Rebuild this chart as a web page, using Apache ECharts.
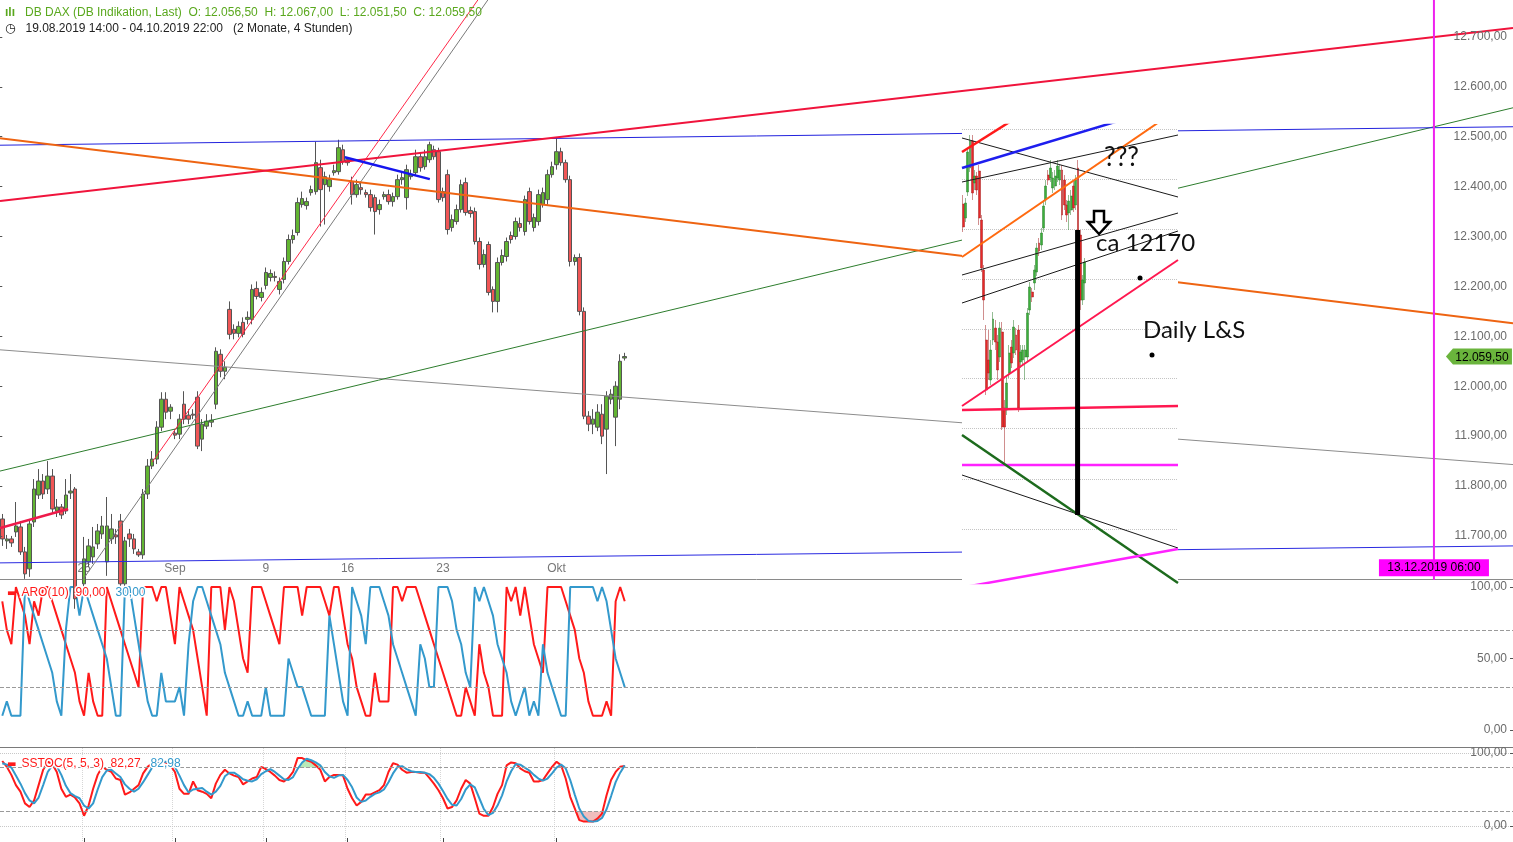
<!DOCTYPE html>
<html><head><meta charset="utf-8">
<script src="https://cdn.jsdelivr.net/npm/echarts@6/dist/echarts.min.js"></script>
<style>html,body{margin:0;padding:0;background:#fff;}#c{width:1513px;height:842px;}</style>
</head><body><div id="c"></div>
<script>
const FONT = '"Liberation Sans", Arial, sans-serif';
// ---- axes / ticks ----
const slotCount = 333;
const tickIdx = [18, 38, 58, 76, 97, 122];
const tickLabels = ['26', 'Sep', '9', '16', '23', 'Okt'];
const priceTicks = [11700, 11800, 11900, 12000, 12100, 12200, 12300, 12400, 12500, 12600, 12700];
const aroonTicks = [0, 50, 100];
const stochTicks = [0, 100];
const insetSlotCount = 94;
const insetGridPrices = [12516, 12416, 12316, 12216, 12116, 12018, 11918, 11816, 11716];

// ---- 4h candles [open, close, low, high] ----
const mainOHLC = [
[11734,11694,11680,11744],[11690,11694,11674,11702],[11694,11686,11678,11700],[11708,11720,11698,11768],[11718,11668,11662,11730],
[11668,11624,11614,11678],[11634,11724,11618,11734],[11728,11794,11718,11814],[11782,11810,11774,11834],[11810,11784,11774,11824],
[11794,11820,11784,11850],[11820,11754,11744,11834],[11750,11758,11738,11774],[11758,11742,11734,11764],[11750,11782,11744,11814],
[11786,11790,11774,11824],[11794,11574,11554,11798],[11584,11564,11544,11594],[11604,11654,11594,11698],[11648,11680,11638,11694],
[11658,11678,11644,11718],[11684,11710,11674,11724],[11704,11720,11694,11740],[11648,11720,11620,11778],[11694,11714,11684,11744],
[11702,11698,11684,11714],[11730,11604,11594,11744],[11604,11690,11594,11698],[11704,11694,11678,11714],[11694,11674,11664,11704],
[11668,11662,11658,11674],[11662,11784,11654,11794],[11784,11840,11774,11854],[11840,11854,11834,11870],[11854,11918,11844,11930],
[11918,11974,11910,11988],[11974,11948,11934,11988],[11950,11958,11934,11964],[11906,11902,11894,11914],[11904,11934,11894,11944],
[11964,11934,11924,11990],[11942,11934,11924,11954],[11944,11942,11934,11954],[11978,11880,11874,11990],[11894,11924,11870,11934],
[11920,11930,11914,11944],[11928,11932,11918,11944],[11964,12070,11954,12078],[12064,12030,12018,12074],[12030,12038,12014,12050],
[12154,12104,12094,12170],[12114,12106,12094,12124],[12106,12120,12098,12130],[12128,12104,12098,12138],[12134,12138,12124,12150],
[12134,12194,12124,12204],[12196,12180,12174,12210],[12178,12188,12170,12198],[12202,12228,12194,12238],[12218,12226,12210,12234],
[12220,12218,12210,12230],[12194,12210,12184,12218],[12214,12250,12206,12258],[12250,12294,12244,12304],[12294,12302,12286,12314],
[12308,12368,12302,12378],[12364,12376,12358,12390],[12362,12370,12354,12378],[12388,12394,12382,12402],[12390,12448,12384,12490],
[12438,12394,12320,12454],[12404,12420,12324,12430],[12400,12414,12390,12424],[12428,12432,12422,12444],[12430,12478,12424,12494],
[12474,12450,12444,12484],[12454,12448,12442,12458],[12410,12384,12364,12420],[12384,12404,12378,12414],[12398,12394,12384,12410],
[12388,12384,12378,12394],[12384,12358,12350,12394],[12378,12350,12304,12384],[12354,12364,12344,12374],[12380,12384,12374,12390],
[12384,12370,12364,12394],[12370,12380,12360,12388],[12380,12414,12374,12424],[12414,12418,12404,12430],[12378,12434,12354,12444],
[12420,12424,12414,12434],[12428,12460,12422,12474],[12460,12438,12430,12468],[12440,12460,12434,12474],[12454,12484,12448,12490],
[12474,12460,12454,12482],[12470,12374,12368,12478],[12390,12378,12370,12398],[12424,12314,12304,12434],[12318,12334,12310,12344],
[12330,12354,12324,12364],[12354,12404,12348,12414],[12408,12348,12342,12418],[12352,12346,12338,12360],[12350,12290,12284,12358],
[12290,12244,12234,12298],[12244,12264,12238,12274],[12284,12188,12182,12290],[12194,12170,12148,12200],[12170,12248,12148,12258],
[12248,12262,12242,12274],[12260,12290,12250,12298],[12302,12294,12286,12310],[12300,12330,12294,12338],[12326,12318,12310,12338],
[12310,12374,12302,12382],[12390,12330,12324,12398],[12318,12338,12310,12346],[12330,12384,12322,12394],[12364,12388,12358,12398],
[12374,12424,12364,12434],[12424,12440,12418,12450],[12444,12470,12434,12498],[12470,12448,12442,12478],[12448,12414,12408,12454],
[12414,12250,12240,12422],[12250,12258,12242,12264],[12258,12150,12142,12266],[12150,11940,11934,12158],[11940,11924,11910,11950],
[11924,11934,11904,11954],[11918,11948,11910,11964],[11944,11900,11884,11964],[11914,11980,11824,11990],[11974,11984,11964,11994],
[11938,12000,11880,12010],[11974,12050,11954,12064],[12056.5,12059.5,12051.5,12067]
];

// ---- Aroon(10) ----
const aroonUp = [90,70,60,100,90,80,60,90,80,100, 100,90,80,70,60,50,40,20,10,40, 20,10,10,100,90,80,70,60,50,40,
30,100,100,100,90,100,100,80,60,100, 90,80,70,50,30,10,100,100,100,70, 100,90,70,50,40,100,100,100,90,80,
70,60,100,100,100,100,80,100,100,100, 100,90,80,100,100,80,60,50,30,20, 10,10,40,20,20,20,100,100,90,100,
100,100,90,80,70,60,50,40,30,20, 10,10,30,20,10,60,40,30,10,10, 10,100,90,100,80,100,80,60,50,40,
100,100,100,100,90,80,70,50,40,20, 10,10,10,20,10,90,100,90];
const aroonDown = [10,20,10,10,10,100,90,80,70,60, 50,40,20,10,70,100,100,80,100,90, 80,70,60,50,30,10,10,100,100,80,
60,40,20,10,10,40,20,20,20,30, 10,60,90,100,100,90,80,70,60,40, 30,20,10,10,20,10,10,10,30,10,
10,10,10,50,40,30,30,20,10,10, 10,10,80,60,40,20,10,100,90,80, 60,100,100,100,90,80,60,50,40,30,
20,10,60,50,30,30,100,100,100,90, 70,60,40,30,100,90,100,90,80,60, 50,40,20,10,20,30,10,20,10,60,
40,30,20,10,10,100,100,100,100,100, 100,90,100,90,70,50,40,30];

// ---- Slow stochastic (5,5,3) ----
const stochK = [89,81,70,56,47,31,26,35,56,77, 88,85,74,51,40,43,39,31,14,28, 51,70,81,77,74,65,63,43,46,51,
56,72,81,86,88,89,87,83,74,51, 44,44,61,49,47,44,38,58,70,77, 72,69,67,57,61,65,67,81,78,74,
69,63,61,66,74,93,93,90,88,83, 77,61,67,70,70,69,51,38,28,33, 43,43,46,49,56,74,86,84,77,73,
74,74,73,73,66,58,49,38,24,26, 35,51,63,58,38,17,14,14,26,44, 56,83,87,86,79,75,73,61,61,63,
72,81,88,83,65,40,24,8,6,6, 6,10,17,42,63,74,81,82.27];
const stochD = [86,84,80,69,58,45,35,31,39,56, 74,83,82,70,55,45,41,38,28,24, 31,50,67,76,77,72,67,57,51,47,
51,60,70,80,85,88,88,86,81,69, 56,46,50,51,52,47,43,47,55,68, 73,73,69,64,62,61,64,71,75,78,
74,69,64,63,67,78,87,92,90,87, 83,74,68,66,69,70,63,53,39,33, 35,40,44,46,50,60,72,81,82,78,
75,74,74,73,71,66,58,48,37,29, 28,37,50,57,53,38,23,15,18,28, 42,61,75,85,84,80,76,70,65,62,
65,72,80,84,79,63,43,24,13,7, 6,7,11,23,41,60,73,82.98];
const stochHighZone = [[65,80],[66,87],[67,92],[68,90],[69,87],[70,83],[71,80]];
const stochLowZone = [[126,20],[127,8],[128,6],[129,6],[130,6],[131,7],[132,11],[133,20]];

// ---- trend lines on main chart: [barIndex, price] ----
const trendRedMain = [[-0.5,12371],[332.5,12718]];
const trendOrangeMain = [[-0.5,12497],[332.5,12126]];
const trendBlueTop = [[-0.5,12483],[332.5,12520]];
const trendBlueBottom = [[-0.5,11646],[332.5,11680]];
const trendGreenMain = [[-0.5,11830],[332.5,12558]];
const trendGrayMain = [[-0.5,12073],[332.5,11843]];
const trendRedSteep = [[33.0,11848],[107.3,12808]];
const trendGraySteep = [[17.1,11604],[108.7,12798]];
const trendBlueShort = [[75.4,12459],[94.1,12415]];
const trendRedShort = [[-0.5,11716],[14.5,11754]];
const futureMarker = [[315.1,11590],[315.1,12800]];
const futureLabelPos = [315.1, 11636];
const futureLabel = '13.12.2019 06:00';

// ---- daily inset chart ----
const insetOHLC = [
[12366,12320,12310,12384],[12338,12368,12330,12378],[12390,12470,12382,12478],[12438,12492,12430,12504],[12492,12388,12374,12504],
[12408,12422,12394,12434],[12422,12394,12384,12430],[12432,12338,12324,12444],[12334,12238,12230,12344],[12234,12174,12134,12244],
[12094,11994,11984,12124],[12054,12028,12014,12114],[12014,12074,12004,12094],[12094,12136,12084,12150],[12118,12090,12074,12134],
[12090,12034,12014,12104],[12060,12118,12050,12130],[12110,11920,11914,12130],[11958,11920,11848,11974],[11954,12008,11944,12024],
[12028,12068,12018,12084],[12080,12048,12038,12094],[12068,12120,12058,12134],[12104,12074,12064,12118],[12114,11958,11950,12124],
[12050,12070,12038,12084],[12054,12074,12044,12084],[12060,12074,12014,12084],[12060,12148,12050,12158],[12154,12200,12144,12210],
[12190,12180,12170,12198],[12208,12234,12194,12244],[12230,12278,12222,12288],[12288,12272,12262,12298],[12284,12308,12274,12318],
[12318,12362,12310,12374],[12374,12402,12364,12414],[12424,12414,12404,12434],[12418,12438,12410,12454],[12398,12418,12388,12430],
[12402,12422,12394,12434],[12418,12442,12410,12454],[12414,12434,12404,12444],[12434,12344,12334,12444],[12414,12364,12354,12424],
[12364,12344,12330,12374],[12348,12372,12314,12384],[12354,12382,12344,12394],[12402,12358,12350,12414],[12364,12414,12354,12424],
[12438,12314,12294,12454],[12304,12174,12154,12314],[12174,12214,12164,12224],[12208,12250,12174,12258]
];
const dRed = [[-0.5,12470],[22.6,12537]];
const dBlue = [[-0.5,12438],[68.3,12533]];
const dBlackA = [[-0.5,12498],[93.5,12380]];
const dBlackB = [[-0.5,12410],[93.5,12504]];
const dOrange = [[-0.5,12260],[87.8,12538]];
const dBlackC = [[-0.5,12224],[93.5,12348]];
const dBlackD = [[-0.5,12168],[93.5,12312]];
const dCrimsonRise = [[-0.5,11962],[93.5,12254]];
const dCrimsonFlat = [[-0.5,11954],[93.5,11962]];
const dMagentaFlat = [[-0.5,11844],[93.5,11844]];
const dGreen = [[-0.5,11904],[93.5,11608]];
const dBlackE = [[-0.5,11824],[93.5,11678]];
const dMagentaRise = [[-0.5,11599],[93.5,11676]];
const dBar = [[49.8,12314],[49.8,11744]];

// ---- helpers ----
function de(v) {
  const neg = v < 0;
  const s = Math.abs(v).toFixed(2).split('.');
  return (neg ? '-' : '') + s[0].replace(/\B(?=(\d{3})+(?!\d))/g, '.') + ',' + s[1];
}
const slots = Array.from({length: slotCount}, (_, i) => String(i));
const insetSlots = Array.from({length: insetSlotCount}, (_, i) => 'd' + i);
const isTick = (i) => tickIdx.indexOf(i) >= 0;
const last = mainOHLC[mainOHLC.length - 1];

function mLine(data, color, width, xi, yi, z) {
  return {type: 'line', xAxisIndex: xi, yAxisIndex: yi, data: data, symbol: 'none', silent: true,
    lineStyle: {color: color, width: width}, z: z, clip: true};
}
const noSym = ['none', 'none'];
const yLabel = {inside: true, margin: 6, color: '#6b6b6b', fontSize: 12, fontFamily: FONT, padding: [3, 0, 0, 0], formatter: (v) => de(v)};

const chart = echarts.init(document.getElementById('c'), null, {renderer: 'canvas'});
const option = {
  animation: false,
  backgroundColor: '#ffffff',
  textStyle: {fontFamily: FONT},
  title: [
    {left: 5, top: 4, padding: 0, text: '{i|ılı}  {g|DB DAX (DB Indikation, Last)  O: ' + de(last[0]) + '  H: ' + de(last[3]) + '  L: ' + de(last[2]) + '  C: ' + de(last[1]) + '}',
      textStyle: {fontWeight: 'normal', rich: {i: {color: '#5aa81e', fontSize: 12, fontWeight: 'bold', fontFamily: FONT}, g: {color: '#5aa81e', fontSize: 12, fontFamily: FONT}}}},
    {left: 5, top: 20, padding: 0, text: '{i|◷}  {t|19.08.2019 14:00 - 04.10.2019 22:00   (2 Monate, 4 Stunden)}',
      textStyle: {fontWeight: 'normal', rich: {i: {color: '#222', fontSize: 12, fontFamily: 'DejaVu Sans'}, t: {color: '#222', fontSize: 12, fontFamily: FONT}}}},
    {left: 7, top: 584, padding: 0, text: '{m|▬} {r|ARO(10)  ' + de(aroonUp[aroonUp.length - 1]) + '}  {b|' + de(aroonDown[aroonDown.length - 1]) + '}',
      textStyle: {fontWeight: 'normal', rich: {m: {color: '#ff1a1a', fontSize: 10, fontFamily: 'DejaVu Sans'}, r: {color: '#ff1a1a', fontSize: 12, fontFamily: FONT, textBorderColor: '#fff', textBorderWidth: 3}, b: {color: '#3399cc', fontSize: 12, fontFamily: FONT, textBorderColor: '#fff', textBorderWidth: 3}}}},
    {left: 7, top: 755, padding: 0, text: '{m|▬} {r|SSTOC(5, 5, 3)  ' + de(stochK[stochK.length - 1]) + '}  {b|' + de(stochD[stochD.length - 1]) + '}',
      textStyle: {fontWeight: 'normal', rich: {m: {color: '#ff1a1a', fontSize: 10, fontFamily: 'DejaVu Sans'}, r: {color: '#ff1a1a', fontSize: 12, fontFamily: FONT, textBorderColor: '#fff', textBorderWidth: 3}, b: {color: '#3399cc', fontSize: 12, fontFamily: FONT, textBorderColor: '#fff', textBorderWidth: 3}}}}
  ],
  grid: [
    {left: 0, right: 0, top: 0, height: 579},
    {left: 0, right: 0, top: 580, height: 167},
    {left: 0, right: 0, top: 748, height: 94},
    {left: 962, top: 125, width: 216, height: 458, show: true, backgroundColor: '#ffffff', borderWidth: 0, z: 5}
  ],
  xAxis: [
    {gridIndex: 0, type: 'category', data: slots, boundaryGap: true,
      axisLine: {show: true, onZero: false, lineStyle: {color: '#8a8a8a', width: 1}}, axisTick: {show: false},
      axisLabel: {inside: true, margin: 4, color: '#777', fontSize: 12, fontFamily: FONT,
        interval: (i) => isTick(i), formatter: (v, i) => { const k = tickIdx.indexOf(i); return k >= 0 ? tickLabels[k] : ''; }},
      splitLine: {show: false}},
    {gridIndex: 0, type: 'value', min: -0.5, max: slotCount - 0.5, show: false, position: 'top'},
    {gridIndex: 1, type: 'category', data: slots, boundaryGap: true,
      axisLine: {show: true, onZero: false, lineStyle: {color: '#7a7a7a', width: 1}}, axisTick: {show: false}, axisLabel: {show: false}, splitLine: {show: false}},
    {gridIndex: 2, type: 'category', data: slots, boundaryGap: true,
      axisLine: {show: false, onZero: false}, axisTick: {show: true, inside: true, length: 4, alignWithLabel: true, interval: (i) => isTick(i), lineStyle: {color: '#444'}},
      axisLabel: {show: false}, splitLine: {show: true, interval: (i) => isTick(i), lineStyle: {type: 'dotted', color: '#d6d6d6'}}},
    {gridIndex: 3, type: 'category', data: insetSlots, boundaryGap: true, axisLine: {show: false, onZero: false}, axisTick: {show: false}, axisLabel: {show: false}, splitLine: {show: false}, z: 6},
    {gridIndex: 3, type: 'value', min: -0.5, max: insetSlotCount - 0.5, show: false, position: 'top'}
  ],
  yAxis: [
    {gridIndex: 0, type: 'value', position: 'right', min: 11613.7, max: 12774, z: 10,
      axisLine: {show: false}, splitLine: {show: false},
      axisTick: {show: true, inside: true, length: 3, lineStyle: {color: '#555'}, customValues: priceTicks},
      axisLabel: Object.assign({customValues: priceTicks}, yLabel)},
    {gridIndex: 1, type: 'value', position: 'right', min: -11.9, max: 104.9, z: 10,
      axisLine: {show: false}, splitLine: {show: false},
      axisTick: {show: true, inside: true, length: 3, lineStyle: {color: '#555'}, customValues: aroonTicks},
      axisLabel: Object.assign({customValues: aroonTicks}, yLabel)},
    {gridIndex: 2, type: 'value', position: 'right', min: -21.9, max: 106.8, z: 10,
      axisLine: {show: false}, splitLine: {show: false},
      axisTick: {show: true, inside: true, length: 3, lineStyle: {color: '#555'}, customValues: stochTicks},
      axisLabel: Object.assign({customValues: stochTicks}, yLabel)},
    {gridIndex: 3, type: 'value', min: 11608, max: 12524, show: false}
  ],
  series: [
    {type: 'candlestick', name: 'DAX', xAxisIndex: 0, yAxisIndex: 0, data: mainOHLC, barWidth: 4, z: 2,
      itemStyle: {color: '#62b532', color0: '#f05656', borderColor: '#555555', borderColor0: '#555555', borderWidth: 1},
      markPoint: {silent: true, symbol: 'path://M0,8L7,0L66,0L66,16L7,16Z', symbolSize: [66, 16], symbolKeepAspect: false,
        itemStyle: {color: '#6ab43c'},
        label: {show: true, position: 'inside', color: '#000', fontSize: 12, fontFamily: FONT, offset: [3, 1], formatter: () => de(last[1])},
        data: [{coord: [325, last[1]]}]}},
    mLine(trendGrayMain, '#8c8c8c', 1, 1, 0, 3),
    mLine(trendGreenMain, '#2d7d2d', 1, 1, 0, 3),
    mLine(trendBlueTop, '#2222dd', 1, 1, 0, 3),
    mLine(trendBlueBottom, '#2a2ae0', 1, 1, 0, 3),
    mLine(trendGraySteep, '#7a7a7a', 1, 1, 0, 3),
    mLine(trendRedSteep, '#ff2848', 1, 1, 0, 3),
    mLine(trendOrangeMain, '#ee6412', 2, 1, 0, 3),
    mLine(trendRedMain, '#f0143c', 2, 1, 0, 3),
    mLine(trendBlueShort, '#1515ee', 2.5, 1, 0, 3),
    mLine(trendRedShort, '#ee1a4a', 2.5, 1, 0, 3),
    Object.assign(mLine(futureMarker, '#ee22ee', 2, 1, 0, 4), {
      markPoint: {silent: true, symbol: 'rect', symbolSize: [110, 17], itemStyle: {color: '#ff00ff'},
        label: {show: true, position: 'inside', color: '#000', fontSize: 12, fontFamily: FONT, formatter: () => futureLabel},
        data: [{coord: futureLabelPos}]}}),
    // Aroon
    {type: 'line', xAxisIndex: 2, yAxisIndex: 1, data: aroonUp, symbol: 'none', silent: true, lineStyle: {color: '#ff1a1a', width: 2}, z: 2,
      markLine: {silent: true, symbol: noSym, label: {show: false}, lineStyle: {type: 'dashed', color: '#9a9a9a', width: 1},
        data: [{yAxis: 70}, {yAxis: 30}]}},
    {type: 'line', xAxisIndex: 2, yAxisIndex: 1, data: aroonDown, symbol: 'none', silent: true, lineStyle: {color: '#3399cc', width: 2}, z: 2},
    // Stochastic
    {type: 'line', xAxisIndex: 3, yAxisIndex: 2, data: stochHighZone, symbol: 'none', silent: true, lineStyle: {width: 0}, areaStyle: {origin: 80, color: 'rgba(110,210,110,0.7)'}, z: 1},
    {type: 'line', xAxisIndex: 3, yAxisIndex: 2, data: stochLowZone, symbol: 'none', silent: true, lineStyle: {width: 0}, areaStyle: {origin: 20, color: 'rgba(225,120,120,0.7)'}, z: 1},
    {type: 'line', xAxisIndex: 3, yAxisIndex: 2, data: stochK, symbol: 'none', silent: true, lineStyle: {color: '#ff1a1a', width: 2}, z: 2,
      markLine: {silent: true, symbol: noSym, label: {show: false}, lineStyle: {type: 'dashed', color: '#9a9a9a', width: 1},
        data: [{yAxis: 80}, {yAxis: 20}]}},
    {type: 'line', xAxisIndex: 3, yAxisIndex: 2, data: stochD, symbol: 'none', silent: true, lineStyle: {color: '#3399cc', width: 2}, z: 2,
      markLine: {silent: true, symbol: noSym, label: {show: false}, lineStyle: {type: 'dotted', color: '#c8c8c8', width: 1},
        data: [{yAxis: 100}, {yAxis: 0}]}},
    // inset (daily chart)
    Object.assign(mLine(dMagentaFlat, '#ff22ff', 2.5, 5, 3, 7), {
      markLine: {silent: true, symbol: noSym, label: {show: false}, lineStyle: {type: 'dotted', color: '#c4c4c4', width: 1},
        data: insetGridPrices.map(p => ({yAxis: p}))}}),
    {type: 'candlestick', xAxisIndex: 4, yAxisIndex: 3, data: insetOHLC, barWidth: 2.4, z: 7,
      itemStyle: {color: '#3cb03c', color0: '#e82828', borderColor: '#2a7a2a', borderColor0: '#a01c1c', borderWidth: 0.5}},
    mLine(dBlackA, '#1a1a1a', 1, 5, 3, 8),
    mLine(dBlackB, '#1a1a1a', 1, 5, 3, 8),
    mLine(dBlackC, '#1a1a1a', 1, 5, 3, 8),
    mLine(dBlackD, '#1a1a1a', 1, 5, 3, 8),
    mLine(dBlackE, '#1a1a1a', 1, 5, 3, 8),
    mLine(dRed, '#ff1a1a', 2.5, 5, 3, 8),
    mLine(dBlue, '#1e1eee', 2.5, 5, 3, 8),
    mLine(dOrange, '#ff6a10', 2, 5, 3, 8),
    mLine(dCrimsonRise, '#ff1850', 2, 5, 3, 8),
    mLine(dCrimsonFlat, '#ff1850', 2.5, 5, 3, 8),
    mLine(dGreen, '#1d6b1d', 2.5, 5, 3, 8),
    mLine(dMagentaRise, '#ff22ff', 2.5, 5, 3, 8),
    mLine(dBar, '#000000', 5, 5, 3, 9)
  ],
  graphic: {elements: [
    {type: 'text', left: 1104, top: 145, z: 20, style: {text: '???', fill: '#111', font: '26px Lato, "Open Sans", sans-serif'}},
    {type: 'text', left: 1096, top: 231, z: 20, style: {text: 'ca 12170', fill: '#111', font: '24px Lato, "Open Sans", sans-serif'}},
    {type: 'text', left: 1143, top: 318, z: 20, style: {text: 'Daily L&S', fill: '#111', font: '24px Lato, "Open Sans", sans-serif'}},
    {type: 'circle', z: 20, shape: {cx: 1140, cy: 278, r: 2.5}, style: {fill: '#000'}},
    {type: 'circle', z: 20, shape: {cx: 1152, cy: 355, r: 2.5}, style: {fill: '#000'}},
    {type: 'polygon', z: 20, shape: {points: [[1094, 211], [1104, 211], [1104, 222], [1110, 222], [1099, 234], [1088, 222], [1094, 222]]},
      style: {fill: '#fff', stroke: '#000', lineWidth: 2.5}}
  ]}
};
chart.setOption(option);
</script>
</body></html>
